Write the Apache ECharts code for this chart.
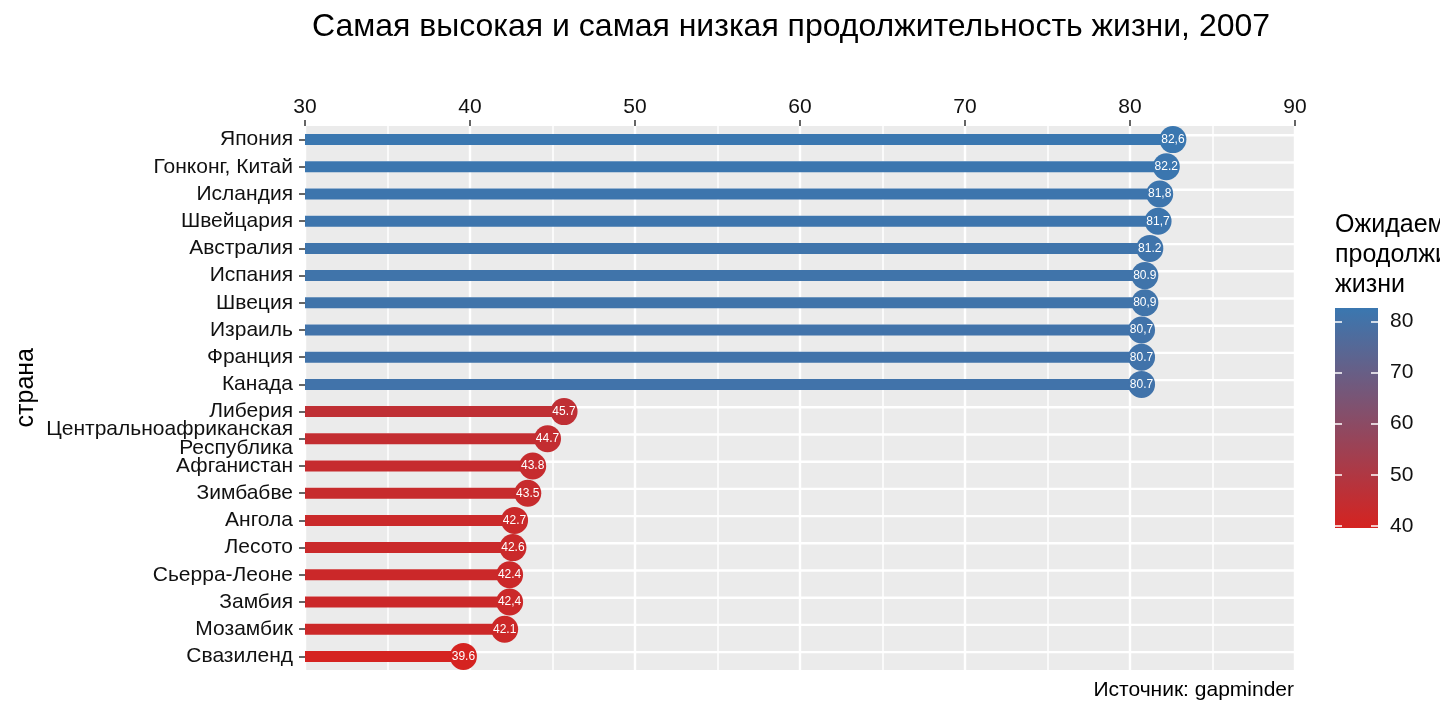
<!DOCTYPE html>
<html>
<head>
<meta charset="utf-8">
<script src="https://cdn.jsdelivr.net/npm/echarts@6/dist/echarts.min.js"></script>
<style>
  html, body { margin: 0; padding: 0; background: #fff; }
  #chart { width: 1440px; height: 720px; }
</style>
</head>
<body>
<div id="chart"></div>
<script>
const countries = [
  'Япония', 'Гонконг, Китай', 'Исландия', 'Швейцария', 'Австралия',
  'Испания', 'Швеция', 'Израиль', 'Франция', 'Канада',
  'Либерия', 'Центральноафриканская\nРеспублика', 'Афганистан', 'Зимбабве', 'Ангола',
  'Лесото', 'Сьерра-Леоне', 'Замбия', 'Мозамбик', 'Свазиленд'
];
const lifeExp = [
  82.6, 82.2, 81.8, 81.7, 81.2, 80.9, 80.9, 80.7, 80.7, 80.7,
  45.7, 44.7, 43.8, 43.5, 42.7, 42.6, 42.4, 42.4, 42.1, 39.6
];
// подписи как на картинке (запятые и точки вперемешку)
const pointLabels = [
  '82,6', '82.2', '81,8', '81,7', '81.2', '80.9', '80,9', '80,7', '80.7', '80.7',
  '45.7', '44.7', '43.8', '43.5', '42.7', '42.6', '42.4', '42,4', '42.1', '39.6'
];
const xTicks = { min: 30, max: 90, step: 10 };
const legendTicks = [40, 50, 60, 70, 80];
const colorLow = '#d52320';
const colorHigh = '#3a77b0';

const font = 'Liberation Sans, Arial, sans-serif';
const lo = Math.min(...lifeExp), hi = Math.max(...lifeExp);

const chart = echarts.init(document.getElementById('chart'));

chart.setOption({
  backgroundColor: '#fff',
  textStyle: { fontFamily: font },
  title: {
    text: 'Самая высокая и самая низкая продолжительность жизни, 2007',
    left: 786, top: 6, textAlign: 'center',
    textStyle: { fontSize: 32, fontWeight: 'normal', color: '#000', fontFamily: font }
  },
  graphic: [
    {
      type: 'text', left: 14, top: 348, rotation: Math.PI / 2,
      style: { text: 'страна', font: '25px ' + font, fill: '#000' }
    },
    {
      type: 'text', right: 146, top: 680,
      style: { text: 'Источник: gapminder', font: '21px ' + font, fill: '#000' }
    },
    {
      type: 'text', left: 1335, top: 210,
      style: { text: 'Ожидаемая\nпродолжительность\nжизни', font: '25px ' + font, fill: '#000', lineHeight: 30 }
    }
  ],
  visualMap: {
    show: false,
    type: 'continuous',
    seriesIndex: [1, 2],
    dimension: 0,
    min: lo, max: hi,
    inRange: { color: [colorLow, colorHigh] }
  },
  grid: [
    { left: 305, width: 990, top: 126, height: 544, show: true, backgroundColor: '#ebebeb', borderWidth: 0 },
    { left: 1335, width: 43, top: 308, height: 220, show: false }
  ],
  xAxis: [
    {
      type: 'value', position: 'top', gridIndex: 0,
      min: xTicks.min, max: xTicks.max, interval: xTicks.step,
      axisLine: { show: false },
      axisTick: { show: true, length: 6, lineStyle: { color: '#333', width: 1.5 } },
      axisLabel: { fontSize: 21, color: '#111', margin: 8 },
      splitLine: { show: true, lineStyle: { color: '#fff', width: 2.4 } },
      minorTick: { show: false, splitNumber: 2 },
      minorSplitLine: { show: true, lineStyle: { color: '#fff', width: 1.5 } }
    },
    {
      type: 'category', gridIndex: 1, data: ['bar'],
      show: false
    }
  ],
  yAxis: [
    {
      type: 'category', gridIndex: 0, inverse: true, data: countries,
      axisLine: { show: false },
      axisTick: { show: true, interval: 0, alignWithLabel: true, length: 6, lineStyle: { color: '#333', width: 1.5 } },
      axisLabel: { interval: 0, hideOverlap: false, fontSize: 21, color: '#111', margin: 12, lineHeight: 19 },
      splitLine: { show: false }
    },
    {
      type: 'value', gridIndex: 1, position: 'right', min: lo, max: hi, z: 10,
      axisLine: { show: false },
      axisTick: { show: true, inside: true, length: 7, customValues: legendTicks, lineStyle: { color: '#fff', width: 1.5 } },
      axisLabel: { fontSize: 21, color: '#111', margin: 12, customValues: legendTicks },
      splitLine: { show: false }
    },
    {
      type: 'value', gridIndex: 1, position: 'left', min: lo, max: hi, z: 10,
      axisLine: { show: false },
      axisTick: { show: true, inside: true, length: 7, customValues: legendTicks, lineStyle: { color: '#fff', width: 1.5 } },
      axisLabel: { show: false },
      splitLine: { show: false }
    }
  ],
  series: [
    {
      // горизонтальные линии сетки по категориям
      name: 'track', type: 'bar', xAxisIndex: 0, yAxisIndex: 0,
      data: countries.map(c => [xTicks.max, c]),
      barWidth: 2.4, barGap: '-100%', silent: true, z: 1,
      itemStyle: { color: '#fff' }
    },
    {
      name: 'stick', type: 'bar', xAxisIndex: 0, yAxisIndex: 0,
      data: lifeExp.map((v, i) => [v, countries[i]]),
      barWidth: 11, barGap: '-100%', z: 2
    },
    {
      name: 'point', type: 'scatter', xAxisIndex: 0, yAxisIndex: 0,
      data: lifeExp.map((v, i) => [v, countries[i]]),
      symbolSize: 27, z: 3,
      itemStyle: { opacity: 1 },
      label: {
        show: true, position: 'inside', color: '#fff', fontSize: 12,
        formatter: p => pointLabels[p.dataIndex]
      }
    },
    {
      name: 'colorbar', type: 'bar', xAxisIndex: 1, yAxisIndex: 1,
      data: [hi], barWidth: '100%', silent: true,
      itemStyle: {
        color: new echarts.graphic.LinearGradient(0, 0, 0, 1, [
          { offset: 0, color: colorHigh },
          { offset: 1, color: colorLow }
        ])
      }
    }
  ]
});
</script>
</body>
</html>
